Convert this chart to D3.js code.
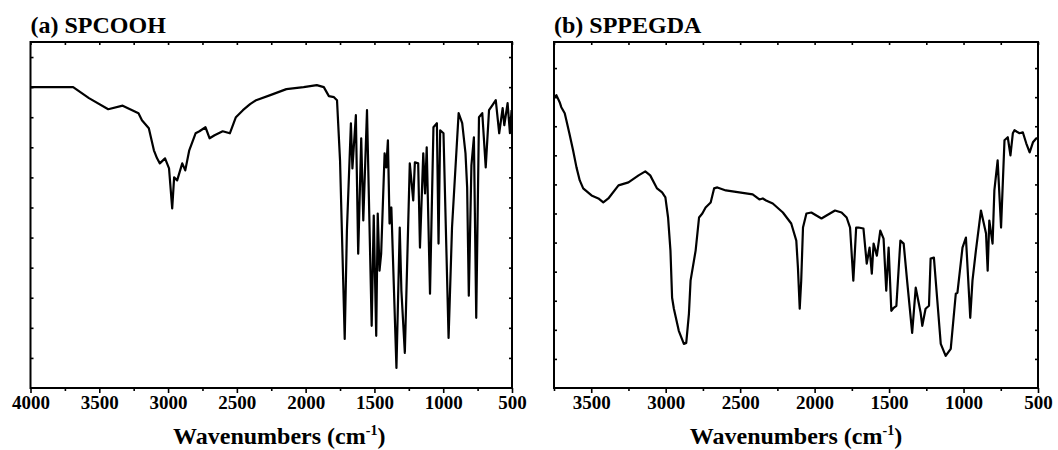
<!DOCTYPE html>
<html>
<head>
<meta charset="utf-8">
<script src="https://cdn.jsdelivr.net/npm/d3@7"></script>
<style>
  body { margin: 0; background: #fff; }
  svg { display: block; }
  svg text { font-family: "Liberation Serif", "Times New Roman", serif; font-weight: bold; fill: #000; }
  .frame { fill: none; stroke: #000; stroke-width: 2; }
  .spectrum { fill: none; stroke: #000; stroke-width: 2.2; stroke-linejoin: round; }
  .axis path { display: none; }
  .axis line { stroke: #000; stroke-width: 1.6; }
  .axis text { font-size: 19px; }
</style>
</head>
<body>
<svg id="chart" width="1058" height="450"></svg>
<script>
/* global d3 */

// panel titles
var panelTitles = ['(a) SPCOOH', '(b) SPPEGDA']

// (a) SPCOOH, transmittance in arbitrary units
var spcoohWavenumber = [4000, 3690, 3575, 3435, 3330, 3215, 3190, 3140, 3103, 3080, 3060, 3022, 2993, 2970, 2956, 2934, 2897, 2875, 2846, 2800, 2772, 2728, 2698, 2662, 2603, 2551, 2507, 2456, 2404, 2360, 2257, 2140, 2015, 1919, 1868, 1831, 1794, 1772, 1750, 1716, 1700, 1671, 1660, 1635, 1618, 1596, 1581, 1554, 1520, 1505, 1487, 1476, 1463, 1451, 1426, 1414, 1402, 1390, 1377, 1340, 1316, 1304, 1279, 1243, 1218, 1206, 1182, 1169, 1145, 1132, 1120, 1096, 1071, 1046, 1034, 1022, 998, 961, 936, 888, 862, 838, 826, 814, 795, 777, 760, 740, 716, 691, 667, 642, 618, 593, 568, 556, 532, 515, 503]
var spcoohSignal = [300, 300, 289, 278, 281.5, 274, 267, 259, 237, 229, 224, 229, 219, 179, 210, 207, 224, 217, 237, 254, 256, 260, 249, 252, 256, 254, 270, 277, 283, 287, 292, 298, 300, 302, 300, 291, 290, 287, 227, 49, 157, 264, 219, 272, 134, 249, 167, 277, 62, 172, 52, 174, 117, 134, 234, 220, 247, 164, 180, 20, 160, 97, 35, 224, 187, 225, 224, 140, 234, 194, 240, 94, 260, 264, 144, 257, 254, 50, 160, 274, 264, 234, 200, 92, 222, 250, 70, 270, 274, 220, 277, 282, 287, 254, 279, 262, 284, 254, 277]

// (b) SPPEGDA, transmittance in arbitrary units
var sppegdaWavenumber = [3745, 3734, 3712, 3701, 3678, 3667, 3647, 3622, 3599, 3577, 3554, 3498, 3452, 3419, 3385, 3317, 3250, 3182, 3137, 3104, 3058, 3024, 3002, 2984, 2968, 2957, 2945, 2912, 2878, 2862, 2844, 2833, 2799, 2776, 2754, 2732, 2698, 2675, 2653, 2596, 2506, 2416, 2371, 2348, 2326, 2281, 2213, 2157, 2123, 2112, 2100, 2090, 2078, 2055, 2022, 1988, 1954, 1920, 1863, 1819, 1785, 1762, 1740, 1721, 1706, 1672, 1650, 1631, 1616, 1604, 1582, 1559, 1537, 1519, 1503, 1485, 1469, 1451, 1424, 1402, 1379, 1345, 1321, 1288, 1277, 1255, 1232, 1221, 1199, 1176, 1153, 1120, 1086, 1052, 1041, 1007, 984, 962, 955, 940, 917, 883, 849, 838, 827, 805, 793, 771, 748, 725, 703, 685, 669, 658, 624, 602, 579, 556, 534, 511, 500]
var sppegdaSignal = [290, 292, 285, 280, 274, 267, 254, 237, 220, 207, 199, 192, 189, 185, 189, 202, 205, 212, 216, 212, 199, 195, 190, 170, 137, 90, 79, 57, 44, 45, 74, 107, 137, 170, 174, 180, 185, 199, 200, 197, 195, 193, 188, 189, 187, 184, 175, 164, 147, 120, 79, 107, 160, 174, 175, 172, 169, 172, 177, 175, 170, 160, 107, 160, 160, 159, 124, 140, 114, 144, 132, 157, 149, 97, 140, 77, 80, 82, 147, 144, 107, 55, 100, 75, 62, 79, 82, 129, 130, 87, 44, 32, 39, 94, 95, 140, 150, 90, 70, 107, 137, 177, 154, 117, 167, 144, 197, 227, 160, 247, 250, 232, 254, 257, 254, 255, 244, 235, 245, 249, 249]

// axis ticks
var xTicksA = [4000, 3500, 3000, 2500, 2000, 1500, 1000, 500]
var xMinorA = [3750, 3250, 2750, 2250, 1750, 1250, 750]
var xTicksB = [3500, 3000, 2500, 2000, 1500, 1000, 500]
var xMinorB = [3750, 3250, 2750, 2250, 1750, 1250, 750]
var yTicksA = [30, 60, 90, 120, 150, 180, 210, 240, 270, 300, 330]
var yTicksB = [29, 58, 87, 116, 145, 174, 203, 232, 261, 290, 319]

var svg = d3.select('#chart')

drawPanel({
  left: 30.5, right: 512, top: 42, bottom: 388,
  domain: [4000, 500],
  title: panelTitles[0],
  labelShift: 8,
  wavenumber: spcoohWavenumber,
  signal: spcoohSignal,
  xTicks: xTicksA,
  xMinor: xMinorA,
  yTicks: yTicksA
})

drawPanel({
  left: 554, right: 1038, top: 42, bottom: 388,
  domain: [3750, 500],
  title: panelTitles[1],
  labelShift: 0,
  wavenumber: sppegdaWavenumber,
  signal: sppegdaSignal,
  xTicks: xTicksB,
  xMinor: xMinorB,
  yTicks: yTicksB
})

function drawPanel (p) {
  var width = p.right - p.left
  var height = p.bottom - p.top

  var x = d3.scaleLinear().domain(p.domain).range([0, width])
  var y = d3.scaleLinear().domain([0, 345]).range([height, 0])

  var g = svg.append('g')
    .attr('transform', 'translate(' + p.left + ',' + p.top + ')')

  // spectrum
  var points = p.wavenumber.map(function (w, i) { return [w, p.signal[i]] })
  var line = d3.line()
    .x(function (d) { return x(d[0]) })
    .y(function (d) { return y(d[1]) })

  g.append('path')
    .datum(points)
    .attr('class', 'spectrum')
    .attr('d', line)

  // bottom axis, major ticks with labels
  g.append('g')
    .attr('class', 'axis')
    .attr('transform', 'translate(0,' + height + ')')
    .call(d3.axisBottom(x).tickValues(p.xTicks).tickSize(5).tickPadding(3).tickFormat(d3.format('d')))

  // bottom minor ticks
  g.append('g')
    .attr('class', 'axis')
    .attr('transform', 'translate(0,' + height + ')')
    .call(d3.axisBottom(x).tickValues(p.xMinor).tickSize(3).tickFormat(''))

  // top ticks, pointing in
  g.append('g')
    .attr('class', 'axis')
    .call(d3.axisTop(x).tickValues(p.xTicks.concat(p.xMinor)).tickSize(-3).tickFormat(''))

  // left and right ticks, no labels
  g.append('g')
    .attr('class', 'axis')
    .call(d3.axisLeft(y).tickValues(p.yTicks).tickSize(-3).tickFormat(''))
  g.append('g')
    .attr('class', 'axis')
    .attr('transform', 'translate(' + width + ',0)')
    .call(d3.axisRight(y).tickValues(p.yTicks).tickSize(-3).tickFormat(''))

  // frame
  g.append('rect')
    .attr('class', 'frame')
    .attr('width', width)
    .attr('height', height)

  // panel title
  g.append('text')
    .attr('x', 0)
    .attr('y', -9)
    .attr('font-size', 24)
    .text(p.title)

  // x axis title with superscript
  var label = g.append('text')
    .attr('x', width / 2 + p.labelShift)
    .attr('y', height + 56)
    .attr('text-anchor', 'middle')
    .attr('font-size', 24)
  label.append('tspan').text('Wavenumbers (cm')
  label.append('tspan').attr('dy', -9).attr('font-size', 14).text('-1')
  label.append('tspan').attr('dy', 9).text(')')
}
</script>
</body>
</html>
